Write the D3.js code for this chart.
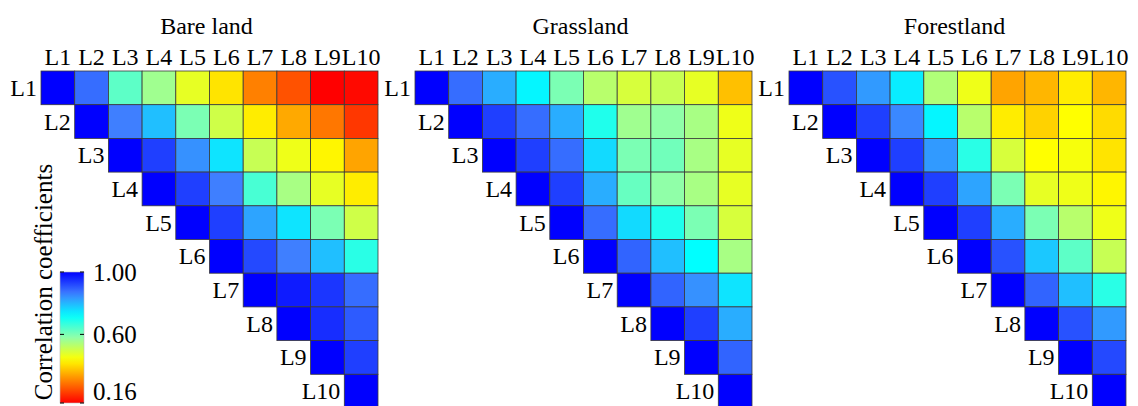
<!DOCTYPE html>
<html>
<head>
<meta charset="utf-8">
<script src="https://cdn.jsdelivr.net/npm/d3@7"></script>
<style>
  body { margin: 0; background: #fff; }
  svg text { font-family: "Liberation Serif", "Times New Roman", Times, "DejaVu Serif", serif; }
</style>
</head>
<body>
<div id="container"></div>
<script>
const width = 1138;
const height = 406;
const cell = 33.7;
const gridTop = 71;
const panelX = [41, 415, 789];
const serif = "Liberation Serif, Times New Roman, serif";

//------------------DATA------------------//
const layers = ["L1", "L2", "L3", "L4", "L5", "L6", "L7", "L8", "L9", "L10"];
const panelTitles = ["Bare land", "Grassland", "Forestland"];

// upper triangle, each row starts at the diagonal
const bareLand = [
  [1.00, 0.88, 0.63, 0.56, 0.47, 0.41, 0.30, 0.25, 0.16, 0.17],
  [1.00, 0.86, 0.79, 0.60, 0.50, 0.42, 0.345, 0.29, 0.22],
  [1.00, 0.93, 0.84, 0.75, 0.51, 0.46, 0.43, 0.34],
  [1.00, 0.93, 0.86, 0.65, 0.55, 0.47, 0.42],
  [1.00, 0.93, 0.82, 0.75, 0.60, 0.50],
  [1.00, 0.92, 0.86, 0.79, 0.68],
  [1.00, 0.97, 0.94, 0.88],
  [1.00, 0.95, 0.90],
  [1.00, 0.93],
  [1.00]
];
const grassland = [
  [1.00, 0.88, 0.81, 0.73, 0.60, 0.53, 0.49, 0.51, 0.47, 0.37],
  [1.00, 0.93, 0.88, 0.81, 0.69, 0.56, 0.58, 0.55, 0.46],
  [1.00, 0.93, 0.88, 0.76, 0.60, 0.61, 0.55, 0.47],
  [1.00, 0.93, 0.81, 0.62, 0.58, 0.55, 0.47],
  [1.00, 0.88, 0.76, 0.69, 0.60, 0.49],
  [1.00, 0.89, 0.79, 0.72, 0.55],
  [1.00, 0.89, 0.84, 0.75],
  [1.00, 0.93, 0.81],
  [1.00, 0.89],
  [1.00]
];
const forestland = [
  [1.00, 0.91, 0.83, 0.74, 0.54, 0.46, 0.34, 0.36, 0.42, 0.36],
  [1.00, 0.93, 0.85, 0.73, 0.53, 0.42, 0.39, 0.44, 0.40],
  [1.00, 0.93, 0.83, 0.68, 0.49, 0.44, 0.45, 0.41],
  [1.00, 0.93, 0.82, 0.60, 0.47, 0.46, 0.43],
  [1.00, 0.93, 0.81, 0.60, 0.53, 0.46],
  [1.00, 0.91, 0.78, 0.63, 0.51],
  [1.00, 0.89, 0.79, 0.68],
  [1.00, 0.91, 0.83],
  [1.00, 0.92],
  [1.00]
];
const matrices = [bareLand, grassland, forestland];

const cbarTicks = [1.00, 0.60, 0.16];
const cbarTitle = "Correlation coefficients";

//------------------SCALES------------------//
const color = d3.scaleLinear()
  .domain([1.00, 0.86, 0.72, 0.58, 0.44, 0.30, 0.16])
  .range(["#0000ff", "#3f7fff", "#00ffff", "#90ffa8", "#ffff00", "#ff8000", "#ff0000"])
  .interpolate(d3.interpolateRgb)
  .clamp(true);

const svg = d3.select("#container").append("svg")
  .attr("width", width)
  .attr("height", height)
  .style("display", "block");

//------------------PANELS------------------//
matrices.forEach(function(m, p) {
  const x0 = panelX[p];
  const x = d3.scaleBand().domain(layers).range([x0, x0 + cell * 10]);
  const y = d3.scaleBand().domain(layers).range([gridTop, gridTop + cell * 10]);

  const cells = [];
  m.forEach(function(row, i) {
    row.forEach(function(v, k) {
      cells.push({ r: layers[i], c: layers[i + k], v: v });
    });
  });

  const g = svg.append("g");

  g.selectAll("rect")
    .data(cells)
    .enter()
    .append("rect")
    .attr("x", function(d) { return x(d.c); })
    .attr("y", function(d) { return y(d.r); })
    .attr("width", x.bandwidth())
    .attr("height", y.bandwidth())
    .style("fill", function(d) { return color(d.v); })
    .style("stroke", "#3a3a3a")
    .style("stroke-width", 0.8);

  // title
  g.append("text")
    .attr("x", x0 + cell * 5 - 3)
    .attr("y", 34)
    .attr("text-anchor", "middle")
    .attr("font-family", serif)
    .style("font-size", "24px")
    .text(panelTitles[p]);

  // column labels
  g.selectAll("text.col")
    .data(layers)
    .enter()
    .append("text")
    .attr("class", "col")
    .attr("x", function(d) { return x(d) + x.bandwidth() / 2; })
    .attr("y", 65)
    .attr("text-anchor", "middle")
    .attr("font-family", serif)
    .style("font-size", "24px")
    .text(function(d) { return d; });

  // row labels, next to the diagonal
  g.selectAll("text.row")
    .data(layers)
    .enter()
    .append("text")
    .attr("class", "row")
    .attr("x", function(d) { return x(d) - 4; })
    .attr("y", function(d) { return y(d) + y.bandwidth() / 2 + 8; })
    .attr("text-anchor", "end")
    .attr("font-family", serif)
    .style("font-size", "24px")
    .text(function(d) { return d; });
});

//------------------COLORBAR------------------//
const cbX = 60, cbW = 24;
const cbY = d3.scaleLinear().domain([0.16, 1.00]).range([403, 272]);

const grad = svg.append("defs").append("linearGradient")
  .attr("id", "cbgrad")
  .attr("x1", 0).attr("y1", 1).attr("x2", 0).attr("y2", 0);
grad.selectAll("stop")
  .data(d3.range(0, 1.0001, 0.05))
  .enter()
  .append("stop")
  .attr("offset", function(d) { return d; })
  .attr("stop-color", function(d) { return color(0.16 + d * 0.84); });

svg.append("rect")
  .attr("x", cbX)
  .attr("y", cbY(1.00))
  .attr("width", cbW)
  .attr("height", cbY(0.16) - cbY(1.00))
  .style("fill", "url(#cbgrad)")
  .style("stroke", "#bbb")
  .style("stroke-width", 0.6);

const tk = svg.append("g").selectAll("g")
  .data(cbarTicks)
  .enter()
  .append("g");
tk.append("line")
  .attr("x1", cbX).attr("x2", cbX + 4)
  .attr("y1", function(d) { return cbY(d); })
  .attr("y2", function(d) { return cbY(d); })
  .style("stroke", "#000").style("stroke-width", 1);
tk.append("line")
  .attr("x1", cbX + cbW - 4).attr("x2", cbX + cbW)
  .attr("y1", function(d) { return cbY(d); })
  .attr("y2", function(d) { return cbY(d); })
  .style("stroke", "#000").style("stroke-width", 1);
tk.append("text")
  .attr("x", 93)
  .attr("y", function(d) { return Math.min(cbY(d) + 9, 400); })
  .attr("font-family", serif)
  .style("font-size", "25px")
  .text(function(d) { return d3.format(".2f")(d); });

svg.append("text")
  .attr("transform", "translate(52,282) rotate(-90)")
  .attr("text-anchor", "middle")
  .attr("font-family", serif)
  .style("font-size", "25px")
  .text(cbarTitle);
</script>
</body>
</html>
